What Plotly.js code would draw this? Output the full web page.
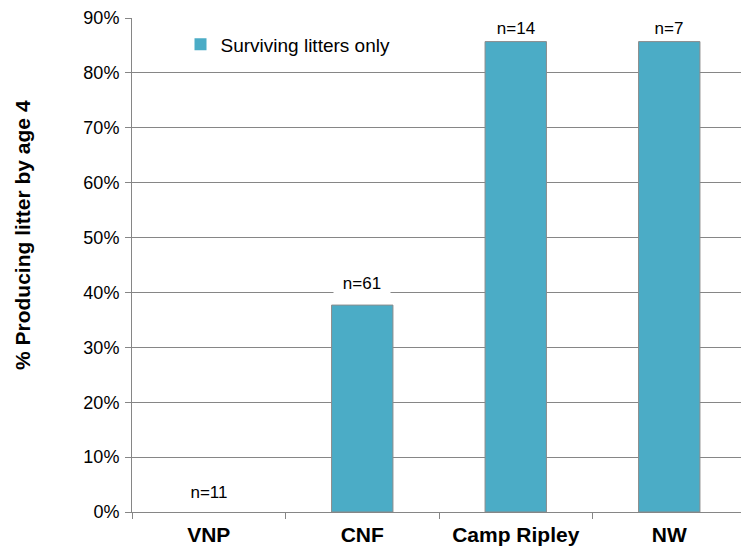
<!DOCTYPE html>
<html>
<head>
<meta charset="utf-8">
<script src="https://cdn.plot.ly/plotly-3.0.1.min.js"></script>
<style>
html,body{margin:0;padding:0;overflow:hidden;background:#fff;}
#chart{width:760px;height:552px;}
</style>
</head>
<body>
<div id="chart"></div>
<script>
var categories = ["VNP", "CNF", "Camp Ripley", "NW"];
var values = [0, 0.377, 0.857, 0.857];
var sampleLabels = ["n=11", "n=61", "n=14", "n=7"];
var seriesName = "Surviving litters only";
var yTitle = "% Producing litter by age 4";

var labelShift = [20, 22, 13, 13];
var FONT = "'Liberation Sans', Arial, sans-serif";

var trace = {
  type: "bar",
  x: categories,
  y: values,
  name: seriesName,
  marker: {color: "#4bacc6", line: {color: "#8c8c8c", width: values.map(function(v){ return v > 0 ? 1 : 0; })}},
  showlegend: true,
  hoverinfo: "none"
};

var annotations = categories.map(function(c, i){
  return {
    x: c, y: values[i], xref: "x", yref: "y",
    text: sampleLabels[i], showarrow: false,
    yanchor: "middle", yshift: labelShift[i],
    bgcolor: "#ffffff", borderpad: 0, width: 56,
    font: {family: FONT, size: 17, color: "#000"}
  };
});

annotations.push({
  xref: "paper", yref: "paper",
  x: (22 - 132) / 614, y: (512 - 235) / 494,
  xanchor: "center", yanchor: "middle",
  textangle: -90, showarrow: false,
  text: yTitle,
  font: {family: FONT, size: 21, color: "#000", weight: "bold"}
});

var layout = {
  width: 760, height: 552,
  margin: {l: 132, r: 14, t: 18, b: 40},
  paper_bgcolor: "#fff", plot_bgcolor: "#fff",
  bargap: 0.6,
  font: {family: FONT, color: "#000"},
  xaxis: {
    type: "category",
    tickson: "boundaries",
    ticks: "outside", ticklen: 6, tickcolor: "#868686",
    showline: true, linecolor: "#868686", linewidth: 1,
    showgrid: false,
    ticklabelstandoff: 4,
    tickfont: {size: 21, color: "#000", family: FONT, weight: "bold"},
    fixedrange: true
  },
  yaxis: {
    range: [0, 0.9], dtick: 0.1, tickformat: ".0%",
    ticks: "outside", ticklen: 6, tickcolor: "#868686",
    showline: true, linecolor: "#868686", linewidth: 1,
    showgrid: true, gridcolor: "#868686", gridwidth: 1,
    zeroline: false,
    ticklabelstandoff: 2,
    tickfont: {size: 18, color: "#000", family: FONT},
    fixedrange: true
  },
  legend: {
    x: 0.079, y: 0.985, xanchor: "left", yanchor: "top",
    bgcolor: "rgba(255,255,255,0)",
    font: {size: 19, color: "#000", family: FONT},
    itemwidth: 30
  },
  annotations: annotations
};

Plotly.newPlot("chart", [trace], layout, {displayModeBar: false, staticPlot: true});
</script>
</body>
</html>
